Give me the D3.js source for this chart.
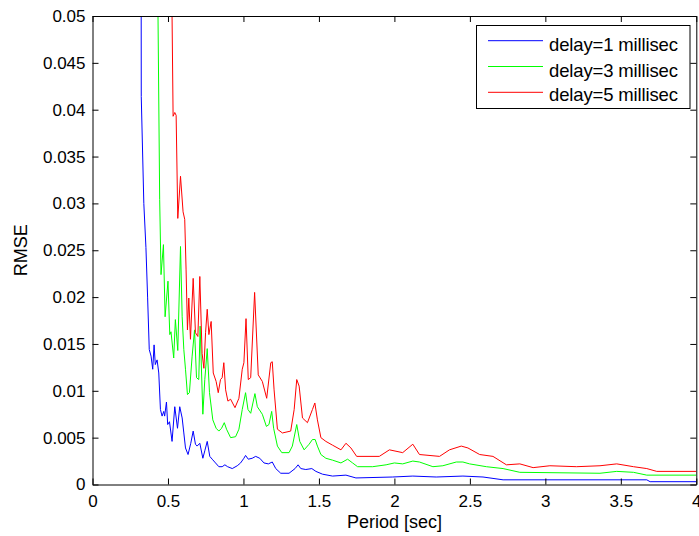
<!DOCTYPE html>
<html>
<head>
<meta charset="utf-8">
<script src="https://cdn.jsdelivr.net/npm/d3@7"></script>
<style>
  html, body { margin: 0; padding: 0; background: #fff; }
  svg { display: block; }
  text { font-family: "Liberation Sans", Arial, sans-serif; fill: #000; }
</style>
</head>
<body>
<svg id="chart" width="699" height="536"></svg>
<script>
// ---- data ----
const seriesNames = ["delay=1 millisec", "delay=3 millisec", "delay=5 millisec"];
const seriesColors = ["#0000ff", "#00ff00", "#ff0000"];

const xTickValues = [0, 0.5, 1, 1.5, 2, 2.5, 3, 3.5, 4];
const xTickLabels = ["0", "0.5", "1", "1.5", "2", "2.5", "3", "3.5", "4"];
const yTickValues = [0, 0.005, 0.01, 0.015, 0.02, 0.025, 0.03, 0.035, 0.04, 0.045, 0.05];
const yTickLabels = ["0", "0.005", "0.01", "0.015", "0.02", "0.025", "0.03", "0.035", "0.04", "0.045", "0.05"];

const xLabel = "Period [sec]";
const yLabel = "RMSE";

// delay = 1 ms  [period, rmse]
const delay1 = [
  [0.321, 0.08], [0.323, 0.0414], [0.340, 0.030], [0.354, 0.0253], [0.365, 0.020], [0.376, 0.0144],
  [0.388, 0.0137], [0.399, 0.0123], [0.408, 0.0149], [0.416, 0.0128], [0.428, 0.0133], [0.439, 0.0119],
  [0.450, 0.0080], [0.461, 0.0073], [0.472, 0.0078], [0.478, 0.0073], [0.490, 0.0088], [0.498, 0.0064],
  [0.510, 0.0067], [0.527, 0.0046], [0.545, 0.0083], [0.563, 0.0060], [0.578, 0.0083], [0.594, 0.0071],
  [0.605, 0.0055], [0.616, 0.0039], [0.633, 0.0032], [0.651, 0.0044], [0.667, 0.0057], [0.682, 0.0043],
  [0.693, 0.0041], [0.711, 0.0044], [0.731, 0.0028], [0.744, 0.0036], [0.760, 0.0046], [0.777, 0.0030],
  [0.793, 0.0027], [0.815, 0.0023], [0.837, 0.0019], [0.859, 0.0019], [0.877, 0.0021], [0.895, 0.0019],
  [0.926, 0.0017], [0.959, 0.0020], [0.981, 0.0023], [1.003, 0.0028], [1.014, 0.0031], [1.032, 0.0027],
  [1.058, 0.0028], [1.081, 0.0030], [1.108, 0.0028], [1.136, 0.0023], [1.165, 0.0022], [1.191, 0.0024],
  [1.214, 0.0017], [1.247, 0.0012], [1.302, 0.0012], [1.342, 0.0017], [1.362, 0.0021], [1.380, 0.0017],
  [1.413, 0.0016], [1.453, 0.0017], [1.480, 0.0014], [1.524, 0.0011], [1.590, 0.0009], [1.679, 0.0010],
  [1.745, 0.0007], [1.989, 0.0008], [2.122, 0.0009], [2.277, 0.0008], [2.454, 0.0009], [2.587, 0.0008],
  [2.720, 0.0005], [3.672, 0.0005], [3.694, 0.0003], [4.0, 0.0003]
];

// delay = 3 ms
const delay3 = [
  [0.432, 0.08], [0.434, 0.05], [0.445, 0.0304], [0.454, 0.0224], [0.470, 0.0256], [0.481, 0.0179],
  [0.500, 0.0217], [0.512, 0.0160], [0.520, 0.0163], [0.538, 0.0135], [0.549, 0.0176], [0.565, 0.0143],
  [0.583, 0.0254], [0.594, 0.0179], [0.605, 0.0144], [0.616, 0.0123], [0.629, 0.0096], [0.642, 0.0098],
  [0.660, 0.0137], [0.676, 0.0165], [0.689, 0.0114], [0.704, 0.0112], [0.713, 0.0169], [0.731, 0.0075],
  [0.744, 0.0112], [0.760, 0.0145], [0.775, 0.0098], [0.797, 0.0069], [0.819, 0.0060], [0.837, 0.0057],
  [0.855, 0.0060], [0.873, 0.0066], [0.888, 0.0059], [0.915, 0.0050], [0.948, 0.0051], [0.970, 0.0059],
  [0.992, 0.0080], [1.014, 0.0098], [1.030, 0.0080], [1.048, 0.0076], [1.076, 0.0097], [1.092, 0.0083],
  [1.125, 0.0075], [1.152, 0.0062], [1.169, 0.0064], [1.187, 0.0078], [1.200, 0.0060], [1.225, 0.0041],
  [1.254, 0.0034], [1.302, 0.0034], [1.324, 0.0041], [1.353, 0.0064], [1.373, 0.0046], [1.402, 0.0037],
  [1.435, 0.0043], [1.457, 0.0048], [1.475, 0.0048], [1.490, 0.0041], [1.513, 0.0032], [1.546, 0.0028],
  [1.590, 0.0026], [1.646, 0.0023], [1.690, 0.0027], [1.723, 0.0023], [1.756, 0.0019], [1.856, 0.0019],
  [1.945, 0.0021], [2.000, 0.0023], [2.055, 0.0022], [2.122, 0.0025], [2.166, 0.0024], [2.255, 0.0019],
  [2.321, 0.0020], [2.410, 0.0024], [2.454, 0.0024], [2.498, 0.0022], [2.609, 0.0019], [2.720, 0.0017],
  [2.831, 0.0013], [3.362, 0.0012], [3.473, 0.0014], [3.584, 0.0013], [3.672, 0.0010], [4.0, 0.0010]
];

// delay = 5 ms
const delay5 = [
  [0.525, 0.08], [0.527, 0.05], [0.534, 0.0393], [0.545, 0.0397], [0.554, 0.0394], [0.565, 0.0284],
  [0.583, 0.0329], [0.600, 0.0291], [0.611, 0.0283], [0.620, 0.0229], [0.629, 0.0165], [0.638, 0.0199],
  [0.649, 0.0155], [0.667, 0.0220], [0.682, 0.0162], [0.698, 0.0158], [0.711, 0.0222], [0.726, 0.0140],
  [0.738, 0.0124], [0.749, 0.0162], [0.760, 0.0187], [0.771, 0.0160], [0.786, 0.0174], [0.800, 0.0119],
  [0.819, 0.0110], [0.833, 0.0098], [0.848, 0.0112], [0.859, 0.0114], [0.870, 0.0130], [0.882, 0.0101],
  [0.897, 0.0089], [0.915, 0.0091], [0.944, 0.0082], [0.970, 0.0092], [0.992, 0.0123], [1.003, 0.0130],
  [1.017, 0.0177], [1.032, 0.0112], [1.048, 0.0114], [1.074, 0.0205], [1.098, 0.0117], [1.125, 0.0110],
  [1.154, 0.0092], [1.181, 0.0130], [1.191, 0.0131], [1.203, 0.0101], [1.225, 0.0059], [1.258, 0.0055],
  [1.313, 0.0057], [1.336, 0.0080], [1.353, 0.0112], [1.369, 0.0105], [1.391, 0.0071], [1.424, 0.0066],
  [1.457, 0.0080], [1.473, 0.0087], [1.490, 0.0069], [1.513, 0.0050], [1.546, 0.0046], [1.590, 0.0042],
  [1.646, 0.0037], [1.679, 0.0044], [1.712, 0.0039], [1.750, 0.0030], [1.900, 0.0030], [1.967, 0.0037],
  [2.055, 0.0034], [2.122, 0.0043], [2.166, 0.0032], [2.299, 0.0030], [2.365, 0.0037], [2.443, 0.0041],
  [2.487, 0.0039], [2.565, 0.0032], [2.653, 0.0030], [2.742, 0.0021], [2.831, 0.0022], [2.919, 0.0018],
  [3.030, 0.0020], [3.207, 0.0019], [3.362, 0.0020], [3.473, 0.0022], [3.584, 0.0019], [3.672, 0.0017],
  [3.738, 0.0014], [4.0, 0.0014]
];

const allSeries = [delay1, delay3, delay5];

// ---- layout ----
const padL = 92.5, padR = 696.3, padT = 16, padB = 484.5;
const svg = d3.select("#chart");

const x = d3.scaleLinear().domain([0, 4]).range([padL, padR]);
const y = d3.scaleLinear().domain([0, 0.05]).range([padB, padT]);

svg.append("defs").append("clipPath").attr("id", "plotclip")
  .append("rect").attr("x", padL).attr("y", padT)
  .attr("width", padR - padL).attr("height", padB - padT);

// lines
const line = d3.line().x(d => x(d[0])).y(d => y(d[1]));
const plot = svg.append("g").attr("clip-path", "url(#plotclip)");
allSeries.forEach((s, i) => {
  plot.append("path").datum(s)
    .attr("fill", "none")
    .attr("stroke", seriesColors[i])
    .attr("stroke-width", 1)
    .attr("stroke-linejoin", "round")
    .attr("d", line);
});

// axes
const fontSize = 17;
const xFmt = (d, i) => xTickLabels[i];
const yFmt = (d, i) => yTickLabels[i];

function styleAxis(g) {
  g.select(".domain").attr("stroke", "#000").attr("stroke-width", 1);
  g.selectAll(".tick line").attr("stroke", "#000").attr("stroke-width", 1);
  g.selectAll(".tick text").attr("font-size", fontSize).attr("font-family", '"Liberation Sans", Arial, sans-serif');
}

svg.append("g").attr("transform", `translate(0,${padB})`)
  .call(d3.axisBottom(x).tickValues(xTickValues).tickFormat(xFmt).tickSize(-6).tickSizeOuter(0).tickPadding(10))
  .call(styleAxis);
svg.append("g").attr("transform", `translate(0,${padT})`)
  .call(d3.axisTop(x).tickValues(xTickValues).tickFormat("").tickSize(-6).tickSizeOuter(0))
  .call(styleAxis);
svg.append("g").attr("transform", `translate(${padL},0)`)
  .call(d3.axisLeft(y).tickValues(yTickValues).tickFormat(yFmt).tickSize(-6).tickSizeOuter(0).tickPadding(7))
  .call(styleAxis);
svg.append("g").attr("transform", `translate(${padR},0)`)
  .call(d3.axisRight(y).tickValues(yTickValues).tickFormat("").tickSize(-6).tickSizeOuter(0))
  .call(styleAxis);

// axis titles
svg.append("text")
  .attr("x", (padL + padR) / 2).attr("y", 528)
  .attr("text-anchor", "middle").attr("font-size", 18)
  .text(xLabel);
svg.append("text")
  .attr("transform", `translate(27,${(padT + padB) / 2}) rotate(-90)`)
  .attr("text-anchor", "middle").attr("font-size", 18)
  .text(yLabel);

// legend
const lg = svg.append("g");
lg.append("rect").attr("x", 476.5).attr("y", 25.5).attr("width", 213.5).attr("height", 83)
  .attr("fill", "#fff").attr("stroke", "#000").attr("stroke-width", 1);
const rowY = [40.7, 66.5, 92.3];
const rowBase = [51, 76.5, 100.5];
seriesNames.forEach((name, i) => {
  lg.append("line").attr("x1", 488).attr("x2", 543).attr("y1", rowY[i]).attr("y2", rowY[i])
    .attr("stroke", seriesColors[i]).attr("stroke-width", 1);
  lg.append("text").attr("x", 549).attr("y", rowBase[i])
    .attr("font-size", 18.5)
    .attr("textLength", 129).attr("lengthAdjust", "spacing")
    .text(name);
});
</script>
</body>
</html>
